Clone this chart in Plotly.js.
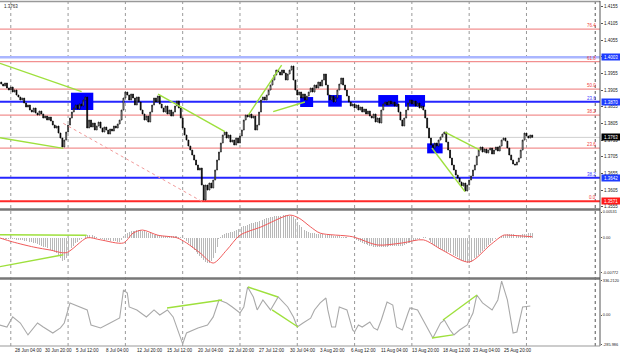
<!DOCTYPE html>
<html><head><meta charset="utf-8">
<script src="https://cdn.plot.ly/plotly-3.0.1.min.js"></script>
<style>html,body{margin:0;padding:0;background:#fff}#c{width:620px;height:357px}</style>
</head><body><div id="c"></div>
<script>
// ---- data (bar index 0 = 28 Jun 04:00, H4 bars) ----
const firstBar = -6;
const firstOpen = 1.3929;
const closes = [
1.3923,1.3917,1.3926,1.3911,1.3905,1.3914,1.3899,1.3905,1.3890,1.3884,
1.3875,1.3881,1.3866,1.3854,1.3860,1.3845,1.3839,1.3851,1.3836,1.3830,
1.3842,1.3833,1.3821,1.3827,1.3815,1.3824,1.3812,1.3800,1.3791,1.3797,
1.3776,1.3761,1.3734,1.3755,1.3779,1.3800,1.3821,1.3839,1.3851,1.3860,
1.3848,1.3863,1.3857,1.3875,1.3884,1.3791,1.3815,1.3794,1.3806,1.3785,
1.3797,1.3809,1.3791,1.3779,1.3794,1.3785,1.3773,1.3788,1.3782,1.3797,
1.3791,1.3803,1.3815,1.3845,1.3881,1.3899,1.3890,1.3875,1.3893,1.3881,
1.3860,1.3884,1.3869,1.3845,1.3833,1.3815,1.3827,1.3809,1.3839,1.3860,
1.3881,1.3869,1.3887,1.3863,1.3851,1.3839,1.3857,1.3833,1.3845,1.3827,
1.3839,1.3857,1.3872,1.3851,1.3821,1.3791,1.3770,1.3755,1.3737,1.3725,
1.3710,1.3695,1.3680,1.3665,1.3671,1.3620,1.3575,1.3620,1.3605,1.3626,
1.3611,1.3635,1.3665,1.3695,1.3719,1.3746,1.3770,1.3779,1.3761,1.3770,
1.3749,1.3755,1.3740,1.3761,1.3746,1.3767,1.3785,1.3815,1.3830,1.3824,
1.3833,1.3821,1.3827,1.3785,1.3800,1.3839,1.3875,1.3884,1.3875,1.3890,
1.3905,1.3920,1.3935,1.3950,1.3965,1.3959,1.3950,1.3965,1.3956,1.3935,
1.3953,1.3965,1.3977,1.3935,1.3905,1.3890,1.3899,1.3881,1.3893,1.3875,
1.3887,1.3899,1.3911,1.3899,1.3920,1.3911,1.3929,1.3917,1.3935,1.3953,
1.3920,1.3890,1.3875,1.3887,1.3869,1.3881,1.3905,1.3923,1.3941,1.3920,
1.3905,1.3887,1.3869,1.3857,1.3863,1.3851,1.3860,1.3845,1.3854,1.3839,
1.3848,1.3833,1.3842,1.3827,1.3821,1.3833,1.3809,1.3821,1.3806,1.3845,
1.3863,1.3869,1.3860,1.3872,1.3863,1.3869,1.3857,1.3863,1.3839,1.3815,
1.3797,1.3821,1.3845,1.3866,1.3875,1.3863,1.3872,1.3857,1.3866,1.3851,
1.3857,1.3845,1.3821,1.3791,1.3761,1.3740,1.3731,1.3746,1.3737,1.3755,
1.3764,1.3773,1.3779,1.3749,1.3725,1.3701,1.3680,1.3665,1.3650,1.3641,
1.3629,1.3617,1.3626,1.3602,1.3620,1.3635,1.3647,1.3665,1.3680,1.3707,
1.3725,1.3734,1.3719,1.3728,1.3716,1.3725,1.3731,1.3713,1.3725,1.3734,
1.3722,1.3737,1.3755,1.3761,1.3752,1.3731,1.3710,1.3695,1.3683,1.3680,
1.3689,1.3701,1.3725,1.3755,1.3776,1.3767,1.3761,1.3770,1.3763];

const macdHist = [
-0.0002,-0.0002,-0.0003,-0.0002,-0.0003,-0.0003,-0.0003,
-0.0003,-0.0004,-0.0004,-0.0004,
-0.0005,-0.0006,-0.0007,-0.0008,-0.0008,-0.0009,-0.0010,
-0.0011,-0.0013,-0.0014,-0.0015,-0.0017,-0.0018,-0.0020,
-0.0022,-0.0024,-0.0025,-0.0027,-0.0030,
-0.0035,-0.0040,-0.0045,
-0.0044,-0.0040,-0.0034,-0.0027,-0.0020,
-0.0015,-0.0011,-0.0008,-0.0005,-0.0003,0.0000,
0.0003,0.0005,0.0005,0.0004,0.0005,
0.0003,0.0002,0.0000,-0.0002,
-0.0003,-0.0004,-0.0004,-0.0005,-0.0006,
-0.0006,-0.0007,-0.0007,-0.0008,-0.0008,
-0.0004,0.0003,0.0007,0.0010,0.0012,
0.0013,0.0014,0.0014,0.0015,0.0015,0.0015,
0.0014,0.0013,0.0012,0.0010,0.0009,0.0007,0.0006,
0.0006,0.0005,0.0005,0.0004,0.0004,0.0004,
0.0004,0.0003,0.0003,0.0003,0.0003,
0.0003,0.0002,0.0001,0.0000,
-0.0003,-0.0007,-0.0011,-0.0015,
-0.0019,-0.0023,-0.0027,-0.0031,-0.0035,
-0.0040,-0.0044,-0.0047,-0.0049,
-0.0048,-0.0045,-0.0040,
-0.0030,-0.0017,-0.0003,
0.0002,0.0005,0.0007,0.0009,
0.0010,0.0011,0.0012,0.0014,0.0015,0.0017,0.0019,
0.0020,0.0022,0.0023,0.0025,0.0026,0.0028,0.0029,
0.0030,0.0031,0.0032,0.0034,0.0035,0.0037,0.0038,
0.0039,0.0040,0.0041,0.0042,0.0042,0.0043,0.0043,0.0044,0.0044,0.0044,0.0044,
0.0043,0.0042,0.0040,0.0036,0.0031,0.0025,
0.0021,0.0018,0.0015,0.0013,0.0011,
0.0010,0.0009,0.0009,0.0008,0.0008,0.0007,0.0007,0.0006,0.0006,0.0005,0.0005,
0.0005,0.0004,0.0004,0.0003,0.0003,0.0002,0.0002,0.0001,0.0001,0.0000,0.0000,0.0000,
-0.0002,-0.0004,-0.0006,-0.0008,-0.0010,-0.0012,
-0.0013,-0.0014,-0.0015,-0.0016,-0.0017,-0.0017,-0.0018,
-0.0018,-0.0018,-0.0017,-0.0017,-0.0017,-0.0016,-0.0016,-0.0016,-0.0016,-0.0016,-0.0016,-0.0016,
-0.0015,-0.0014,-0.0013,-0.0011,-0.0010,-0.0008,-0.0007,-0.0005,
-0.0003,-0.0002,0.0000,0.0001,0.0002,
0.0000,-0.0004,-0.0008,-0.0012,-0.0015,
-0.0017,-0.0019,-0.0021,-0.0023,-0.0025,-0.0027,-0.0028,-0.0030,
-0.0032,-0.0034,-0.0036,-0.0038,-0.0041,-0.0043,-0.0045,-0.0047,-0.0049,
-0.0048,-0.0046,-0.0043,-0.0040,-0.0037,-0.0034,-0.0030,
-0.0026,-0.0022,-0.0018,-0.0014,-0.0010,
-0.0007,-0.0005,-0.0002,0.0000,
0.0002,0.0003,0.0005,0.0006,0.0007,0.0008,
0.0008,0.0007,0.0007,0.0006,0.0006,0.0006,
0.0007,0.0008,0.0008,0.0009,0.0009,0.0009];

const signalBars = [-7,0,11,20,28,39,46,58,63,68,76,86,91,98,105,112,119,130,145,150,156,161,178,191,204,215,225,239,250,257,260,272];
const signalVals = [0.0000,-0.0008,-0.0018,-0.0024,-0.0029,0.0000,-0.0004,-0.0010,0.0009,0.0015,0.0005,0.0000,-0.0010,-0.0029,-0.0049,-0.0024,0.0005,0.0021,0.0044,0.0038,0.0021,0.0009,0.0002,-0.0014,-0.0010,-0.0004,-0.0024,-0.0047,-0.0014,0.0005,0.0005,0.0002];

const cciBars = [-7,-3,0,4,8,13,16,21,25,27,30,35,39,41,46,51,56,58,60,61,65,70,74,77,81,84,88,89,91,97,102,105,108,112,115,119,121,123,126,128,131,135,139,144,147,149,152,156,158,161,164,165,167,169,171,175,178,179,181,183,187,189,191,193,196,199,201,204,207,208,212,215,220,224,226,229,231,234,238,241,243,246,251,254,256,259,262,264,267,271];
const cciVals = [-96,-116,-18,-77,-193,-77,-116,-174,-125,-77,118,79,50,-96,-125,-77,-28,244,215,79,50,-18,50,1,50,-18,-213,-280,-174,-125,-96,-18,147,118,79,20,79,273,176,50,147,50,176,79,-18,-116,-77,-30,50,118,166,50,-116,-116,79,50,-145,-164,-96,-116,-67,-125,-145,-48,127,98,-116,-145,20,69,50,-48,-223,-77,-48,-145,-193,-145,-96,20,195,118,50,147,330,147,-174,-164,79,88];

const dateBars = [-16,0,16,32,48,64,80,96,112,128,144,160,176,192,208,224,240,256];
const dateLabels = ["23 Jun 12:00","28 Jun 04:00","30 Jun 20:00","5 Jul 12:00","8 Jul 04:00","12 Jul 20:00","15 Jul 12:00","20 Jul 04:00","22 Jul 20:00","27 Jul 12:00","30 Jul 04:00","3 Aug 20:00","6 Aug 12:00","11 Aug 04:00","13 Aug 20:00","18 Aug 12:00","23 Aug 04:00","25 Aug 20:00"];
const weekBars = [-1,29,59,89,119,149,179,209,239,269];
const markerBar = 305;

const priceTicks = [1.4155,1.4105,1.4055,1.4005,1.3955,1.3905,1.3855,1.3805,1.3755,1.3705,1.3655,1.3605,1.3555];

const fibLevels = [1.4088,1.3990,1.3908,1.3830,1.3731,1.3571];
const fibNames  = ["76.4","61.8","50.0","38.2","23.6","0.0"];
const blueLevels = [1.3870,1.3642];
const blueNames  = ["23.6","38.2"];
const lightBlueLevel = 1.4003;
const lastPrice = 1.3763;
const boxedPrices = [1.4003,1.3870,1.3763,1.3642,1.3571];
const boxedKinds  = ["blue","blue","black","blue","red"];

// zones: [bar0, bar1, priceTop, priceBottom]
const zones = [[30.5,42.2,1.3897,1.3845],[150.5,157.3,1.3884,1.3854],[165.2,172.3,1.3890,1.3855],[191.4,201.8,1.3890,1.3855],[205.4,215.9,1.3890,1.3855],[217.0,225.1,1.3745,1.3715]];
// trend lines: [bar0, value0, bar1, value1]
const priceTrends = [[-6.65,1.3985,36.1,1.3900],[-6.65,1.3762,26.5,1.3730],[76.1,1.3893,111.1,1.3780],[123.4,1.3830,140.8,1.3980],[136.4,1.3840,153,1.3869],[219.5,1.3731,236.8,1.3600],[226.3,1.3779,244.7,1.3725]];
const dottedTrend = [26.5,1.3805,99.3,1.3570];
const macdTrends = [[-6.65,0.0006,38.7,0.0005],[-6.65,-0.0056,26.5,-0.0033]];
const cciTrends = [[80.8,69,109.6,147],[123.2,273,138.9,176],[135.8,50,149.4,-116],[219.5,-223,230.5,-193],[225.3,-48,243.1,195]];

// ---- build ----
const bars = closes.map((_, i) => firstBar + i);
const opens = [firstOpen].concat(closes.slice(0, -1));
const highs = opens.map((o, i) => Math.max(o, closes[i]));
const lows = opens.map((o, i) => Math.min(o, closes[i]));
const histBars = macdHist.map((_, i) => firstBar + i);

const GREEN = '#9ee03c';
const FONT = 'Liberation Sans, Arial, sans-serif';
const traces = [
  {type:'candlestick', x:bars, open:opens, high:highs, low:lows, close:closes,
   increasing:{line:{color:'#000', width:0.7}, fillcolor:'#ffffff'},
   decreasing:{line:{color:'#000', width:0.7}, fillcolor:'#000000'},
   whiskerwidth:0, hoverinfo:'skip', showlegend:false, xaxis:'x', yaxis:'y'},
  {type:'bar', x:histBars, y:macdHist, width:0.5, marker:{color:'#b8b8b8', line:{width:0}},
   hoverinfo:'skip', showlegend:false, xaxis:'x', yaxis:'y2'},
  {type:'scatter', mode:'lines', x:signalBars, y:signalVals, line:{color:'#f05a5a', width:1, shape:'spline', smoothing:0.8},
   hoverinfo:'skip', showlegend:false, xaxis:'x', yaxis:'y2'},
  {type:'scatter', mode:'lines', x:cciBars, y:cciVals, line:{color:'#a9a9a9', width:1.1},
   hoverinfo:'skip', showlegend:false, xaxis:'x', yaxis:'y3'}
];

const shapes = [];
const annotations = [];
// weekly grid
weekBars.concat([markerBar]).forEach((b, i) => {
  shapes.push({type:'line', xref:'x', yref:'paper', x0:b, x1:b, y0:0, y1:1, layer:'below',
    line:{color: b === markerBar ? '#555' : '#9a9a9a', width:1, dash:'dot'}});
});
// zones
zones.forEach(z => shapes.push({type:'rect', xref:'x', yref:'y', x0:z[0], x1:z[1], y0:z[3], y1:z[2],
  fillcolor:'#0000ff', line:{width:0}, layer:'below'}));
// levels
shapes.push({type:'line', xref:'paper', yref:'y', x0:0, x1:1, y0:lightBlueLevel, y1:lightBlueLevel, line:{color:'#aab6ff', width:2.5}, layer:'below'});
shapes.push({type:'line', xref:'paper', yref:'y', x0:0, x1:1, y0:lastPrice, y1:lastPrice, line:{color:'#cfcfcf', width:1}, layer:'below'});
fibLevels.forEach((v, i) => {
  const zero = fibNames[i] === '0.0';
  shapes.push({type:'line', xref:'paper', yref:'y', x0:0, x1:1, y0:v, y1:v,
    line:{color: zero ? '#ff2a2a' : '#f29090', width: zero ? 2 : 1.2}, layer:'below'});
  annotations.push({xref:'paper', yref:'y', x:0.997, y:v, xanchor:'right', yanchor:'bottom', yshift:-1,
    text:fibNames[i], showarrow:false, font:{family:FONT, size:4.5, color:'#f04040'}});
});
blueLevels.forEach((v, i) => {
  shapes.push({type:'line', xref:'paper', yref:'y', x0:0, x1:1, y0:v, y1:v, line:{color:'#2626ff', width:2}, layer:'below'});
  annotations.push({xref:'paper', yref:'y', x:0.997, y:v, xanchor:'right', yanchor:'bottom', yshift:-1,
    text:blueNames[i], showarrow:false, font:{family:FONT, size:4.5, color:'#3b3bff'}});
});
// trend lines
priceTrends.forEach(t => shapes.push({type:'line', xref:'x', yref:'y', x0:t[0], y0:t[1], x1:t[2], y1:t[3], line:{color:GREEN, width:1.4}}));
shapes.push({type:'line', xref:'x', yref:'y', x0:dottedTrend[0], y0:dottedTrend[1], x1:dottedTrend[2], y1:dottedTrend[3], line:{color:'#f29a9a', width:1, dash:'dot'}});
macdTrends.forEach(t => shapes.push({type:'line', xref:'x', yref:'y2', x0:t[0], y0:t[1], x1:t[2], y1:t[3], line:{color:GREEN, width:1.4}}));
cciTrends.forEach(t => shapes.push({type:'line', xref:'x', yref:'y3', x0:t[0], y0:t[1], x1:t[2], y1:t[3], line:{color:GREEN, width:1.4}}));
// panel separators and frame
[0.3957, 0.1957].forEach(p => shapes.push({type:'line', xref:'paper', yref:'paper', x0:0, x1:1, y0:p, y1:p, line:{color:'#777', width:2.5}}));
shapes.push({type:'line', xref:'paper', yref:'paper', x0:0, x1:1, y0:0.9986, y1:0.9986, line:{color:'#999', width:1.5}});
shapes.push({type:'line', xref:'paper', yref:'paper', x0:1, x1:1, y0:0, y1:1, line:{color:'#555', width:1}});
shapes.push({type:'line', xref:'paper', yref:'paper', x0:0, x1:1, y0:0, y1:0, line:{color:'#999', width:1}});
// boxed price labels
const boxColors = {blue:'#1e3cff', black:'#000000', red:'#ff1a1a'};
boxedPrices.forEach((v, i) => annotations.push({xref:'paper', yref:'y', x:1, y:v, xanchor:'left', yanchor:'middle', xshift:1,
  text:v.toFixed(4), showarrow:false, bgcolor:boxColors[boxedKinds[i]], borderpad:0.6, width:17,
  font:{family:FONT, size:4.5, color:'#fff'}}));
// date labels
dateBars.forEach((b, i) => annotations.push({xref:'x', yref:'paper', x:b, y:-0.012, xanchor:'left', yanchor:'middle',
  text:dateLabels[i], showarrow:false, font:{family:FONT, size:4.6, color:'#222'}}));
// top-left label
annotations.push({xref:'paper', yref:'paper', x:0.004, y:0.985, xanchor:'left', yanchor:'middle', text:lastPrice.toFixed(4), showarrow:false, font:{family:FONT, size:4.5, color:'#222'}});

const axisFont = {family:FONT, size:4.5, color:'#222'};
const smallAxisFont = {family:FONT, size:3.9, color:'#222'};
const layout = {
  width:620, height:357, margin:{l:0, r:20, t:1, b:11},
  paper_bgcolor:'#fff', plot_bgcolor:'#fff', showlegend:false, bargap:0,
  font:{family:FONT},
  xaxis:{range:[-6.65, 307.5], showgrid:false, zeroline:false, showticklabels:false, showline:false, ticks:'', rangeslider:{visible:false}, fixedrange:true},
  yaxis:{domain:[0.3971, 0.9971], range:[1.35481, 1.41691], side:'right', tickvals:priceTicks, ticktext:priceTicks.map(v=>v.toFixed(4)),
    tickfont:axisFont, ticks:'outside', ticklen:2, tickcolor:'#555', showgrid:false, zeroline:false, showline:false, fixedrange:true},
  yaxis2:{domain:[0.1971, 0.3942], range:[-0.0078, 0.00539], side:'right', tickvals:[0.0050, 0, -0.0068], ticktext:['0.00531','0.00','-0.00772'],
    tickfont:smallAxisFont, ticks:'outside', ticklen:1, tickcolor:'#555', showgrid:false, zeroline:false, showline:false, fixedrange:true},
  yaxis3:{domain:[0, 0.1942], range:[-300.6, 350.8], side:'right', tickvals:[336.2, 0, -285.986], ticktext:['336.2120','0.00','-285.986'],
    tickfont:smallAxisFont, ticks:'outside', ticklen:1, tickcolor:'#555', showgrid:false, zeroline:false, showline:false, fixedrange:true},
  shapes:shapes, annotations:annotations
};
Plotly.newPlot('c', traces, layout, {staticPlot:true, displayModeBar:false});
</script>
</body></html>
